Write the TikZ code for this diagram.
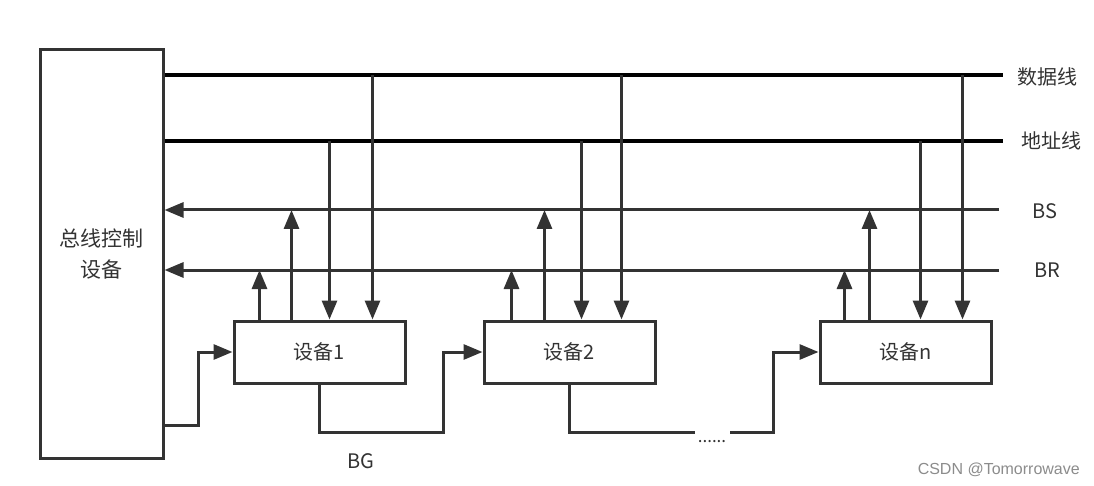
\documentclass[tikz,border=0pt]{standalone}
\usepackage{fontspec}
\setmainfont{Noto Sans CJK SC}
\newfontfamily\wmfont{Liberation Sans}
\usetikzlibrary{arrows.meta}
\definecolor{ink}{HTML}{333333}
\begin{document}
\begin{tikzpicture}[x=1pt,y=-1pt, line join=miter,
  box/.style={draw=ink, line width=3pt, fill=white, minimum width=171pt, minimum height=62pt, inner sep=0pt, font=\fontsize{20}{24}\selectfont, text=ink},
  bus/.style={line width=3.5pt, draw=black},
  sig/.style={line width=3pt, draw=ink},
  arr/.style={sig, -{Triangle[length=19pt,width=15pt]}},
  lbl/.style={font=\fontsize{20}{24}\selectfont, text=ink, inner sep=0pt}]
\useasboundingbox (0,0) rectangle (1094,486);
\fill[white] (0,0) rectangle (1094,486);
% controller
\node[box, minimum width=123pt, minimum height=408pt, align=center, font=\fontsize{21}{31}\selectfont] (ctrl) at (101.5,254) {总线控制\\设备};
% devices
\node[box] (dev1) at (319.5,352) {设备1};
\node[box] (dev2) at (569.5,352) {设备2};
\node[box] (devn) at (905.5,352) {设备n};
% bus end coordinates
\coordinate (dE) at (1003,75);
\coordinate (aE) at (1003,141);
\coordinate (sE) at (999,210);
\coordinate (rE) at (999,270);
% labels
\node[lbl] (ldata) at (1047,77) {数据线};
\node[lbl] (laddr) at (1051,141) {地址线};
\node[lbl] (lbs) at (1045,211) {BS};
\node[lbl] (lbr) at (1047,270) {BR};
% bus lines
\draw[bus] (dE -| ctrl.east) -- (dE);
\draw[bus] (aE -| ctrl.east) -- (aE);
\draw[arr] (sE) -- (sE -| ctrl.east);
\draw[arr] (rE) -- (rE -| ctrl.east);
% device 1 taps
\draw[arr] ([xshift=27pt]dev1.north west) -- ([xshift=27pt]dev1.north west |- rE);
\draw[arr] ([xshift=59pt]dev1.north west) -- ([xshift=59pt]dev1.north west |- sE);
\draw[arr] ([xshift=97pt]dev1.north west |- aE) -- ([xshift=97pt]dev1.north west);
\draw[arr] ([xshift=140pt]dev1.north west |- dE) -- ([xshift=140pt]dev1.north west);
% device 2 taps
\draw[arr] ([xshift=29pt]dev2.north west) -- ([xshift=29pt]dev2.north west |- rE);
\draw[arr] ([xshift=62pt]dev2.north west) -- ([xshift=62pt]dev2.north west |- sE);
\draw[arr] ([xshift=99pt]dev2.north west |- aE) -- ([xshift=99pt]dev2.north west);
\draw[arr] ([xshift=139pt]dev2.north west |- dE) -- ([xshift=139pt]dev2.north west);
% device n taps
\draw[arr] ([xshift=26pt]devn.north west) -- ([xshift=26pt]devn.north west |- rE);
\draw[arr] ([xshift=51pt]devn.north west) -- ([xshift=51pt]devn.north west |- sE);
\draw[arr] ([xshift=102pt]devn.north west |- aE) -- ([xshift=102pt]devn.north west);
\draw[arr] ([xshift=144pt]devn.north west |- dE) -- ([xshift=144pt]devn.north west);
% BG daisy chain
\draw[arr] (ctrl.east |- 0,425) -- (198,425) -- (198,352) -- (dev1.west);
\draw[arr] (dev1.south) -- (319.5,432) -- (443,432) -- (443,352) -- (dev2.west);
\coordinate (gapL) at (695,432);
\coordinate (gapR) at (730,432);
\draw[sig] (dev2.south) |- (gapL);
\draw[arr] (gapR) -- (773,432) -- (773,352) -- (devn.west);
\node[lbl, anchor=base, font=\fontsize{17}{20}\selectfont] (dots) at (712,442) {......};
\node[lbl] (bg) at (361,461) {BG};
% watermark
\node[font=\wmfont\fontsize{16}{18}\selectfont, text=black!45, anchor=east, inner sep=0pt] (wm) at (1080,470) {CSDN @Tomorrowave};
\end{tikzpicture}
\end{document}
